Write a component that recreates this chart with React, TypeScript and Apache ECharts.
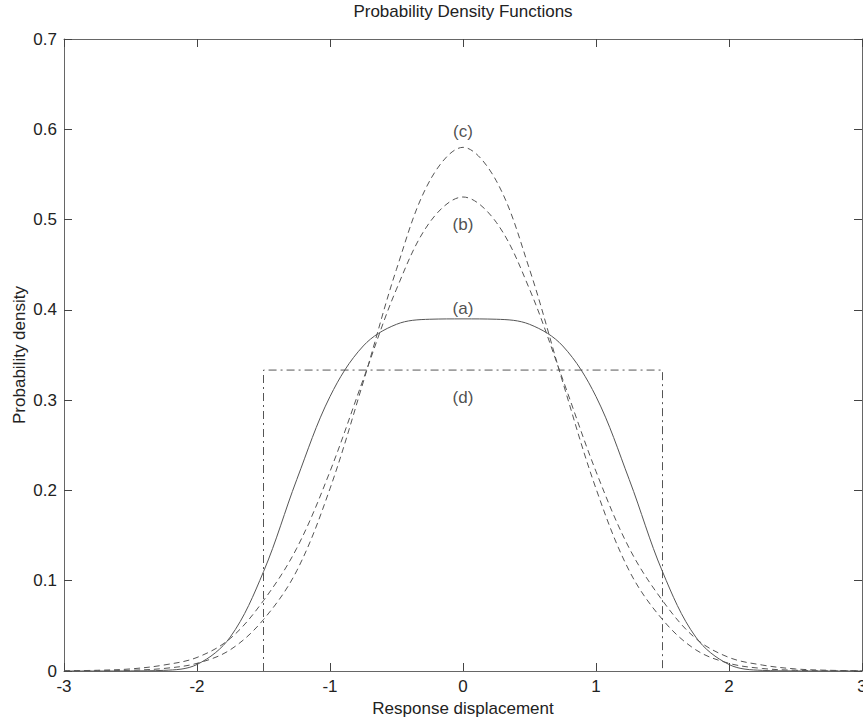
import React, { useEffect, useRef } from "react";
import * as echarts from "echarts";

// Abscissa of the sampled densities
const xs = [-3, -2.75, -2.5, -2.25, -2, -1.75, -1.5, -1.25, -1, -0.75, -0.5, -0.25, 0, 0.25, 0.5, 0.75, 1, 1.25, 1.5, 1.75, 2, 2.25, 2.5, 2.75, 3];
// (a) solid, flat-topped
const pdfA = [0, 0, 0.0001, 0.0007, 0.0072, 0.0376, 0.11, 0.212, 0.304, 0.36, 0.384, 0.3896, 0.39, 0.3896, 0.384, 0.36, 0.304, 0.212, 0.11, 0.0376, 0.0072, 0.0007, 0.0001, 0, 0];
// (b) dashed, lower peak
const pdfB = [0.0002, 0.0008, 0.0023, 0.0066, 0.015, 0.036, 0.078, 0.136, 0.221, 0.323, 0.423, 0.497, 0.525, 0.497, 0.423, 0.323, 0.221, 0.136, 0.078, 0.036, 0.015, 0.0066, 0.0023, 0.0008, 0.0002];
// (c) dashed, higher peak
const pdfC = [0.0001, 0.0002, 0.0008, 0.0028, 0.0085, 0.0235, 0.057, 0.111, 0.202, 0.32, 0.445, 0.543, 0.58, 0.543, 0.445, 0.32, 0.202, 0.111, 0.057, 0.0235, 0.0085, 0.0028, 0.0008, 0.0002, 0.0001];
// (d) uniform, dash-dot
const uniformX = [-1.5, -1.5, 1.5, 1.5];
const uniformY = [0, 0.3333, 0.3333, 0];
// Curve annotations
const curveLabels = ["(a)", "(b)", "(c)", "(d)"];
const labelX = [0, 0, 0, 0];
const labelY = [0.401, 0.494, 0.598, 0.303];

const FONT = "'Liberation Sans', Arial, sans-serif";
const FRAME = "#666";
const CURVE = "#555";
const TEXT = "#222";

export default function App() {
  const ref = useRef<HTMLDivElement>(null);
  useEffect(() => {
    document.documentElement.style.overflow = "hidden";
    document.body.style.overflow = "hidden";
    const chart = echarts.init(ref.current!, null, { renderer: "svg" });
    const pair = (xa: number[], ya: number[]) => xa.map((x, i) => [x, ya[i]]);
    const axisLine = { show: true, onZero: false, lineStyle: { color: FRAME, width: 1 } };
    const tick = { show: true, inside: true, length: 8, lineStyle: { color: "#444", width: 1 } };
    chart.setOption({
      animation: false,
      textStyle: { fontFamily: FONT },
      grid: { left: 64, top: 39, width: 798, height: 632, containLabel: false, outerBoundsMode: "none" },
      graphic: [
        {
          type: "text",
          x: 463,
          y: 3,
          style: { text: "Probability Density Functions", textAlign: "center", fontSize: 17, fill: TEXT, fontFamily: FONT },
        },
      ],
      xAxis: [
        {
          type: "value", min: -3, max: 3, interval: 1, position: "bottom",
          axisLine, axisTick: tick, splitLine: { show: false },
          axisLabel: { margin: 7, fontSize: 17, color: TEXT, showMinLabel: true, showMaxLabel: true, fontFamily: FONT },
          name: "Response displacement", nameLocation: "middle", nameGap: 29, nameMoveOverlap: false,
          nameTextStyle: { fontSize: 17, color: TEXT, fontFamily: FONT },
        },
        {
          type: "value", min: -3, max: 3, interval: 1, position: "top",
          axisLine, axisTick: tick, splitLine: { show: false }, axisLabel: { show: false },
        },
      ],
      yAxis: [
        {
          type: "value", min: 0, max: 0.7, interval: 0.1, position: "left",
          axisLine, axisTick: tick, splitLine: { show: false },
          axisLabel: { margin: 7, fontSize: 17, color: TEXT, showMinLabel: true, showMaxLabel: true, fontFamily: FONT },
          name: "Probability density", nameLocation: "middle", nameGap: 36, nameMoveOverlap: false,
          nameTextStyle: { fontSize: 17, color: TEXT, fontFamily: FONT },
        },
        {
          type: "value", min: 0, max: 0.7, interval: 0.1, position: "right",
          axisLine, axisTick: tick, splitLine: { show: false }, axisLabel: { show: false },
        },
      ],
      series: [
        {
          name: "(a)", type: "line", data: pair(xs, pdfA), showSymbol: false, smooth: 0.35,
          lineStyle: { color: CURVE, width: 1, type: "solid" },
        },
        {
          name: "(b)", type: "line", data: pair(xs, pdfB), showSymbol: false, smooth: 0.35,
          lineStyle: { color: CURVE, width: 1, type: [6, 4] },
        },
        {
          name: "(c)", type: "line", data: pair(xs, pdfC), showSymbol: false, smooth: 0.35,
          lineStyle: { color: CURVE, width: 1, type: [6, 4] },
        },
        {
          name: "(d)", type: "line", data: pair(uniformX, uniformY), showSymbol: false,
          lineStyle: { color: CURVE, width: 1, type: [8, 4, 2, 4] },
        },
        {
          type: "scatter", data: pair(labelX, labelY), symbolSize: 1,
          itemStyle: { color: "transparent" },
          label: {
            show: true, position: "inside", fontSize: 17, color: TEXT, fontFamily: FONT,
            formatter: (p: any) => curveLabels[p.dataIndex],
          },
          silent: true,
        },
      ],
    });
    return () => chart.dispose();
  }, []);
  return (
    <div
      ref={ref}
      style={{ position: "fixed", left: 0, top: 0, width: 863, height: 717, background: "#fff", overflow: "hidden" }}
    />
  );
}
